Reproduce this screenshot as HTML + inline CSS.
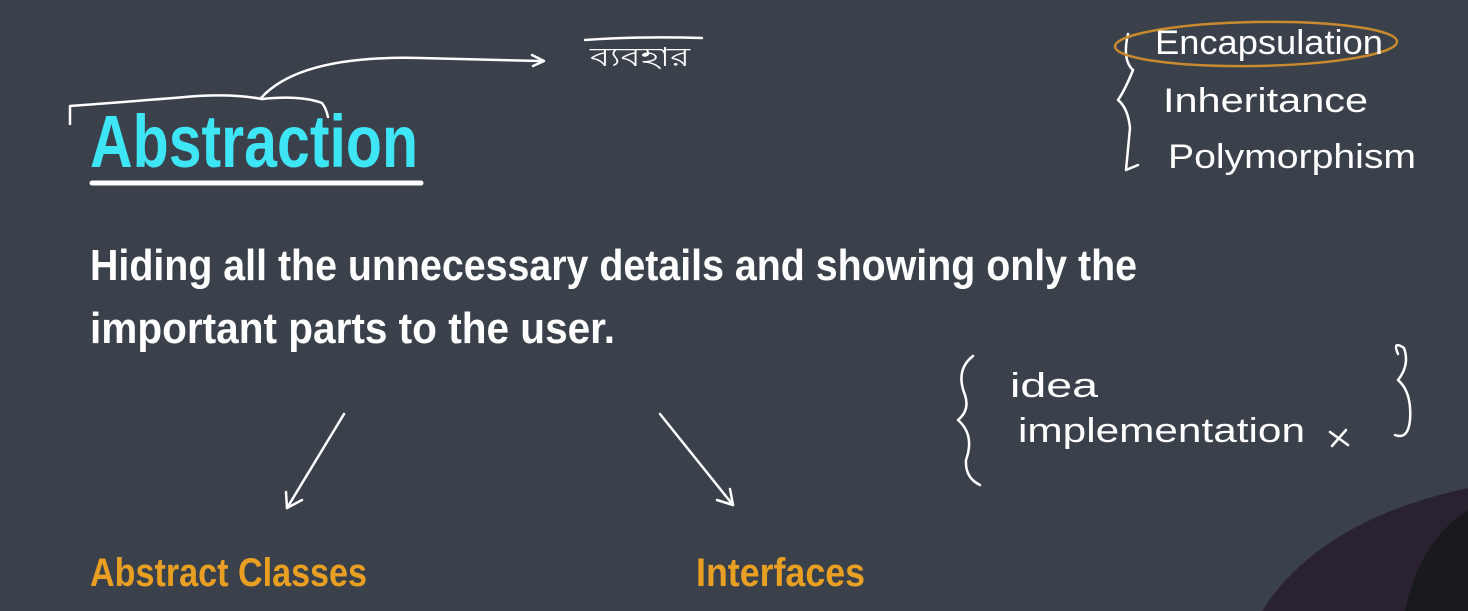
<!DOCTYPE html>
<html><head><meta charset="utf-8"><style>
html,body{margin:0;padding:0;background:#3a414b;}
svg{display:block}
.b{font-family:"Liberation Sans Narrow","Liberation Sans",sans-serif;font-weight:bold}
.h{font-family:"Liberation Sans","DejaVu Sans",sans-serif;fill:#fff}
</style></head><body>
<svg width="1468" height="611" viewBox="0 0 1468 611" xmlns="http://www.w3.org/2000/svg">
<rect width="1468" height="611" fill="#3a414b"/>
<text class="b" x="90" y="167" font-size="74" fill="#3de5f5" textLength="328" lengthAdjust="spacingAndGlyphs">Abstraction</text>
<line x1="92" y1="183" x2="421" y2="183" stroke="#fff" stroke-width="5" stroke-linecap="round"/>
<text class="b" x="90" y="280" font-size="44" fill="#fff" textLength="1047" lengthAdjust="spacingAndGlyphs">Hiding all the unnecessary details and showing only the</text>
<text class="b" x="90" y="343" font-size="44" fill="#fff" textLength="525" lengthAdjust="spacingAndGlyphs">important parts to the user.</text>
<text class="b" x="90" y="586" font-size="40" fill="#e9a022" textLength="277" lengthAdjust="spacingAndGlyphs">Abstract Classes</text>
<text class="b" x="696" y="586" font-size="40" fill="#e9a022" textLength="169" lengthAdjust="spacingAndGlyphs">Interfaces</text>
<g fill="none" stroke="#fff" stroke-width="2.5" stroke-linecap="round" stroke-linejoin="round">
<path d="M70 124 V106 Q150 100 185 97 Q230 93 262 99 Q300 95 322 103 Q326 108 328 117"/>
<path d="M261 98 Q300 55 420 58 L540 61"/>
<path d="M532 55 L544 61 L533 66"/>
<path d="M585 40 Q640 36 702 38"/>
<path d="M344 414 L287 508"/><path d="M286 492 L287 508 L302 500"/>
<path d="M660 414 L733 505"/><path d="M717 500 L733 505 L730 489"/>
<path d="M1128 34 Q1122 60 1133 70 Q1125 90 1118 100 Q1128 108 1130 128 L1126 170 L1138 165"/>
<path d="M973 356 Q955 370 965 395 Q970 410 958 420 Q975 435 966 460 Q965 478 980 485"/>
<path d="M1398 354 Q1392 340 1404 348 Q1410 365 1398 380 Q1412 392 1410 420 Q1408 440 1395 435"/>
<path d="M1000 432 L1018 445 M1016 430 L1002 446" transform="translate(330,0)"/>
</g>
<ellipse cx="1256" cy="44" rx="141" ry="22" fill="none" stroke="#c98a2e" stroke-width="2.5" transform="rotate(-1 1256 44)"/>
<text class="h" x="1155" y="54" font-size="34" textLength="228" lengthAdjust="spacingAndGlyphs">Encapsulation</text>
<text class="h" x="1163" y="112" font-size="34" textLength="205" lengthAdjust="spacingAndGlyphs">Inheritance</text>
<text class="h" x="1168" y="168" font-size="34" textLength="248" lengthAdjust="spacingAndGlyphs">Polymorphism</text>
<text class="h" x="1010" y="397" font-size="34" textLength="88" lengthAdjust="spacingAndGlyphs">idea</text>
<text class="h" x="1018" y="442" font-size="34" textLength="287" lengthAdjust="spacingAndGlyphs">implementation</text>
<text class="h" x="590" y="66" font-size="26" textLength="100" lengthAdjust="spacingAndGlyphs">ব্যবহার</text>
<path d="M1262 611 Q1320 520 1468 488 V611 Z" fill="#2a2230"/>
<path d="M1405 611 Q1420 540 1468 510 V611 Z" fill="#1a1a1e"/>
</svg>
</body></html>
